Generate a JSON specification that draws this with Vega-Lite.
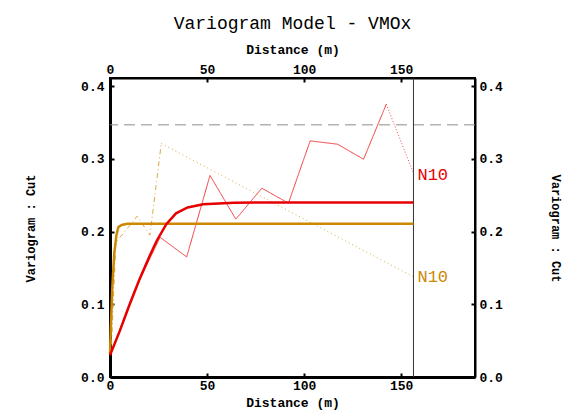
{
  "$schema": "https://vega.github.io/schema/vega-lite/v6.json",
  "width": 365,
  "height": 299,
  "autosize": {"type": "none"},
  "padding": {"left": 110, "top": 78, "right": 92, "bottom": 42},
  "background": "white",
  "config": {
    "view": {"stroke": "black", "strokeWidth": 2},
    "font": "Liberation Mono",
    "axis": {
      "grid": false,
      "labelFont": "Liberation Mono",
      "labelFontWeight": "bold",
      "labelFontSize": 13,
      "labelColor": "black",
      "labelFlush": false,
      "titleFont": "Liberation Mono",
      "titleFontWeight": "bold",
      "titleFontSize": 13,
      "titleColor": "black",
      "tickColor": "black",
      "tickWidth": 2,
      "tickSize": -4,
      "domainColor": "black"
    }
  },
  "title": {
    "text": "Variogram Model - VMOx",
    "font": "Liberation Mono",
    "fontSize": 18,
    "fontWeight": "normal",
    "color": "black",
    "anchor": "middle",
    "offset": 10
  },
  "datasets": {
    "lines": [
      {"s": "re", "x": 1.5, "y": 0.04},
      {"s": "re", "x": 12.5, "y": 0.118},
      {"s": "re", "x": 25.8, "y": 0.192},
      {"s": "re", "x": 39.5, "y": 0.165},
      {"s": "re", "x": 51.5, "y": 0.277},
      {"s": "re", "x": 64.8, "y": 0.217},
      {"s": "re", "x": 78.2, "y": 0.2595},
      {"s": "re", "x": 91.9, "y": 0.239},
      {"s": "re", "x": 103.1, "y": 0.3246},
      {"s": "re", "x": 117.2, "y": 0.32},
      {"s": "re", "x": 130.6, "y": 0.2993},
      {"s": "re", "x": 142.3, "y": 0.375},
      {"s": "ret", "x": 142.3, "y": 0.375},
      {"s": "ret", "x": 156.3, "y": 0.28},
      {"s": "oe", "x": 0.8, "y": 0.045},
      {"s": "oe", "x": 3, "y": 0.185},
      {"s": "oe", "x": 7, "y": 0.198},
      {"s": "oe", "x": 14, "y": 0.221},
      {"s": "oe", "x": 20.6, "y": 0.195},
      {"s": "oe", "x": 26.4, "y": 0.321},
      {"s": "oet", "x": 26.4, "y": 0.321},
      {"s": "oet", "x": 156.3, "y": 0.1376}
    ],
    "models": [
      {"s": "om", "x": 0, "y": 0.033},
      {"s": "om", "x": 1.2, "y": 0.124},
      {"s": "om", "x": 2.2, "y": 0.17},
      {"s": "om", "x": 3.3, "y": 0.195},
      {"s": "om", "x": 4.3, "y": 0.206},
      {"s": "om", "x": 6, "y": 0.209},
      {"s": "om", "x": 9, "y": 0.2105},
      {"s": "om", "x": 156.3, "y": 0.2105},
      {"s": "rm", "x": 0, "y": 0.03},
      {"s": "rm", "x": 5, "y": 0.063},
      {"s": "rm", "x": 10, "y": 0.099},
      {"s": "rm", "x": 15, "y": 0.133},
      {"s": "rm", "x": 20, "y": 0.164},
      {"s": "rm", "x": 24, "y": 0.187},
      {"s": "rm", "x": 29, "y": 0.21},
      {"s": "rm", "x": 34, "y": 0.225},
      {"s": "rm", "x": 40, "y": 0.233},
      {"s": "rm", "x": 48, "y": 0.2375},
      {"s": "rm", "x": 64, "y": 0.2395},
      {"s": "rm", "x": 80, "y": 0.24},
      {"s": "rm", "x": 156.3, "y": 0.24}
    ],
    "sill": [{"y": 0.3466}],
    "limit": [{"x": 156.3}],
    "labels": [
      {"s": "red", "x": 156.3, "y": 0.277, "t": "N10"},
      {"s": "orange", "x": 156.3, "y": 0.1376, "t": "N10"}
    ]
  },
  "layer": [
    {
      "data": {"name": "sill"},
      "mark": {"type": "rule", "color": "#8c8c8c", "strokeWidth": 1, "strokeDash": [11, 6]},
      "encoding": {
        "y": {"field": "y", "type": "quantitative", "scale": {"domain": [0, 0.411], "nice": false, "zero": false}, "axis": null}
      }
    },
    {
      "data": {"name": "limit"},
      "mark": {"type": "rule", "color": "#333333", "strokeWidth": 1},
      "encoding": {
        "x": {"field": "x", "type": "quantitative", "scale": {"domain": [0, 188], "nice": false, "zero": false}, "axis": null}
      }
    },
    {
      "data": {"name": "lines"},
      "mark": {"type": "line", "strokeWidth": 1, "interpolate": "linear"},
      "encoding": {
        "x": {
          "field": "x", "type": "quantitative",
          "scale": {"domain": [0, 188], "nice": false, "zero": false},
          "axis": {"orient": "bottom", "values": [0, 50, 100, 150], "title": "Distance (m)", "domainWidth": 3, "labelPadding": 6, "titlePadding": 4}
        },
        "y": {
          "field": "y", "type": "quantitative",
          "scale": {"domain": [0, 0.411], "nice": false, "zero": false},
          "axis": {"orient": "left", "values": [0, 0.1, 0.2, 0.3, 0.4], "format": ".1f", "title": "Variogram : Cut", "domainWidth": 3, "labelPadding": 10, "titleFontSize": 12, "titleAngle": -90, "titleX": -80, "titleY": 150, "titleAlign": "center", "titleBaseline": "middle"}
        },
        "detail": {"field": "s"},
        "color": {"field": "s", "type": "nominal", "scale": {"domain": ["re", "ret", "oe", "oet"], "range": ["#ef3a3a", "#ef4a4a", "#dcaa44", "#dcaa44"]}, "legend": null},
        "strokeDash": {"field": "s", "type": "nominal", "scale": {"domain": ["re", "ret", "oe", "oet"], "range": [[1, 0], [1, 2], [5, 3, 1, 3], [1, 3]]}, "legend": null}
      }
    },
    {
      "data": {"name": "models"},
      "mark": {"type": "line", "strokeWidth": 2.5, "interpolate": "linear"},
      "encoding": {
        "x": {
          "field": "x", "type": "quantitative",
          "scale": {"domain": [0, 188], "nice": false, "zero": false},
          "axis": {"orient": "top", "values": [0, 50, 100, 150], "title": "Distance (m)", "domainWidth": 2, "labelPadding": 6, "titlePadding": 7}
        },
        "y": {
          "field": "y", "type": "quantitative",
          "scale": {"domain": [0, 0.411], "nice": false, "zero": false},
          "axis": {"orient": "right", "values": [0, 0.1, 0.2, 0.3, 0.4], "format": ".1f", "title": "Variogram : Cut", "domainWidth": 2, "labelPadding": 8, "titleFontSize": 12, "titleAngle": 90, "titleX": 80, "titleY": 150, "titleAlign": "center", "titleBaseline": "middle"}
        },
        "detail": {"field": "s"},
        "color": {"field": "s", "type": "nominal", "scale": {"domain": ["om", "rm"], "range": ["#cc8800", "#e60000"]}, "legend": null}
      }
    },
    {
      "data": {"name": "labels"},
      "mark": {"type": "text", "align": "left", "baseline": "middle", "dx": 4, "font": "Liberation Mono", "fontSize": 17},
      "encoding": {
        "x": {"field": "x", "type": "quantitative", "scale": {"domain": [0, 188], "nice": false, "zero": false}, "axis": null},
        "y": {"field": "y", "type": "quantitative", "scale": {"domain": [0, 0.411], "nice": false, "zero": false}, "axis": null},
        "text": {"field": "t"},
        "color": {"field": "s", "type": "nominal", "scale": {"domain": ["red", "orange"], "range": ["#e60000", "#cc8800"]}, "legend": null}
      }
    }
  ],
  "resolve": {"axis": {"x": "independent", "y": "independent"}, "scale": {"color": "independent", "strokeDash": "independent"}}
}
